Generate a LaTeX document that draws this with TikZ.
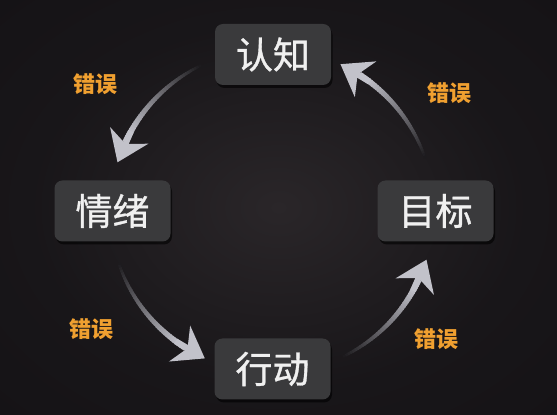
\documentclass[tikz,border=0pt]{standalone}
\usepackage{fontspec}
\newfontfamily\cjk{Noto Sans CJK SC}
\newfontfamily\cjkm[FakeBold=0.9]{Noto Sans CJK SC}
\usetikzlibrary{arrows.meta,shadows}
\definecolor{bgc}{HTML}{141215}
\definecolor{bgin}{HTML}{2A2629}
\definecolor{bgout}{HTML}{0B0B0D}
\definecolor{boxc}{HTML}{3A3A3C}
\definecolor{arrowc}{HTML}{C2C2CA}
\definecolor{errc}{HTML}{F0A030}
\pgfdeclareradialshading{bgshade}{\pgfpoint{0bp}{0bp}}{color(0bp)=(bgin); color(22bp)=(bgc!80!bgin); color(40bp)=(bgc); color(50bp)=(bgout)}
\tikzset{
  box/.style={fill=boxc, rounded corners=8pt, minimum width=116pt, minimum height=61pt,
    inner sep=0pt, text=white!94!black, font=\cjkm\fontsize{37}{37}\selectfont,
    drop shadow={shadow xshift=1.5pt, shadow yshift=-3pt, fill=black, opacity=0.6}},
  err/.style={text=errc, inner sep=0pt, font=\cjk\bfseries\fontsize{22}{22}\selectfont},
  headtip/.style={line width=6pt, draw=arrowc, -{Stealth[length=29pt,width=41pt,inset=9pt]}}
}
\newcommand{\myarrow}[3]{% #1 tail angle, #2 tip angle, #3 name
  \pgfmathsetmacro{\aend}{#2-8}
  \pgfmathsetmacro{\astep}{(\aend-#1)/40}
  \coordinate (#3t) at ({272+162*cos(#1)},{204+162*sin(#1)});
  \coordinate (#3b) at ({272+162*cos(#2-12)},{204+162*sin(#2-12)});
  \coordinate (#3h) at ({272+162*cos(#2)},{204+162*sin(#2)});
  \foreach \i in {0,...,39}{
    \pgfmathsetmacro{\aa}{#1+\i*\astep}
    \pgfmathsetmacro{\ab}{#1+(\i+1.4)*\astep}
    \pgfmathsetmacro{\pc}{min(100,5+\i*2.6)}
    \pgfmathsetmacro{\lw}{2.5+\i*0.09}
    \draw[line width=\lw pt, draw=arrowc!\pc!bgc]
      ({272+162*cos(\aa)},{204+162*sin(\aa)}) arc[start angle=\aa, end angle=\ab, radius=162pt];
  }
  \draw[headtip] (#3b) -- (#3h);
}
\begin{document}
\begin{tikzpicture}[x=1pt,y=1pt]
\useasboundingbox (0,0) rectangle (557,415);
\shade[shading=bgshade] (0,0) rectangle (557,415);

\myarrow{19}{65}{a}
\myarrow{116}{162.5}{b}
\myarrow{198.5}{245.5}{c}
\myarrow{296}{342.5}{d}

\node[box] (rz) at (273,360.5) {认知};
\node[box] (qx) at (112.5,204) {情绪};
\node[box] (mb) at (435.5,204) {目标};
\node[box] (xd) at (272.5,46) {行动};

\node[err] (e1) at (449,322) {错误};
\node[err] (e2) at (95,331) {错误};
\node[err] (e3) at (91,86) {错误};
\node[err] (e4) at (436,76) {错误};
\end{tikzpicture}
\end{document}
